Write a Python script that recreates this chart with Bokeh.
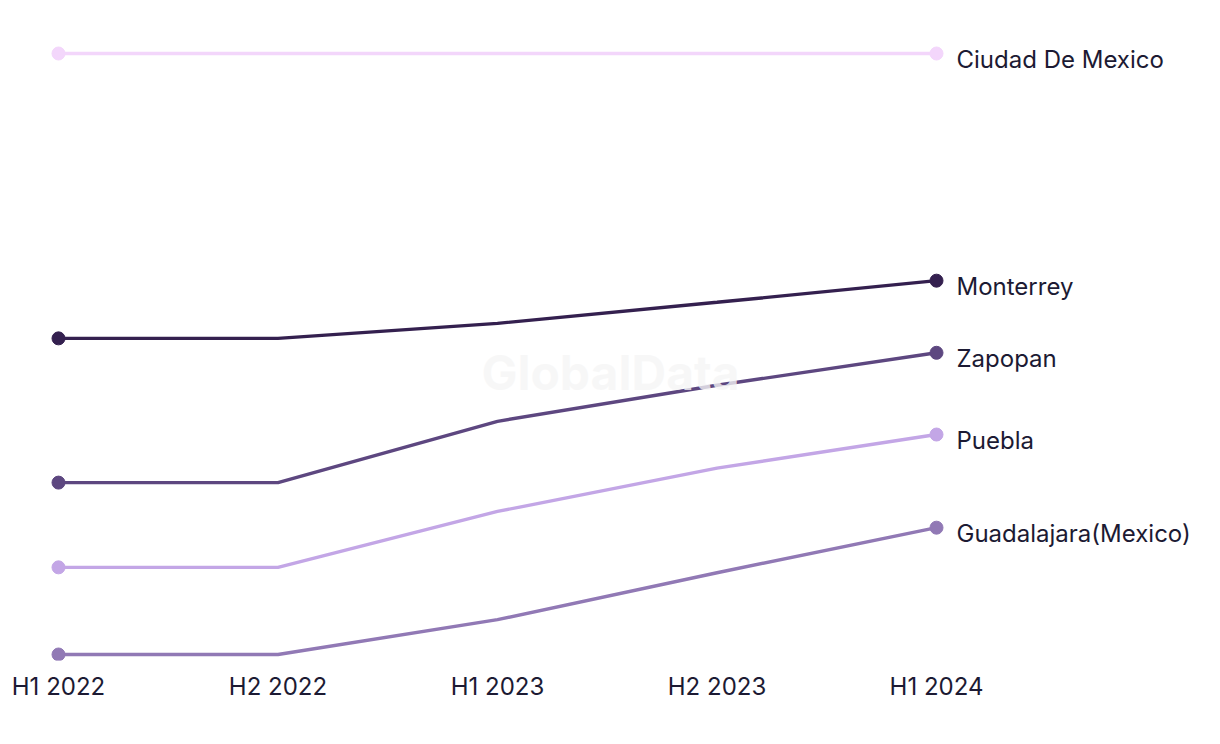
from bokeh.plotting import figure
from bokeh.models import Range1d, FixedTicker, Label
from bokeh.core.properties import value
from bokeh.embed import file_html
from bokeh.resources import INLINE

periods = ["H1 2022", "H2 2022", "H1 2023", "H2 2023", "H1 2024"]
cities = ["Ciudad De Mexico", "Monterrey", "Zapopan", "Puebla", "Guadalajara(Mexico)"]
ciudad = [100.0, 100.0, 100.0, 100.0, 100.0]
monterrey = [52.6, 52.6, 55.1, 58.6, 62.2]
zapopan = [28.6, 28.6, 38.8, 44.8, 50.2]
puebla = [14.5, 14.5, 23.8, 31.0, 36.6]
guadalajara = [0.0, 0.0, 5.8, 13.6, 21.1]
series = [ciudad, monterrey, zapopan, puebla, guadalajara]
colors = ["#f3d6fb", "#34204f", "#5d4780", "#c3a6e6", "#9179b5"]

x = list(range(len(periods)))

p = figure(width=1220, frame_width=1220, frame_height=660,
           output_backend="svg", toolbar_location=None,
           x_range=Range1d(-0.2642, 5.2938), y_range=Range1d(-1.0, 108.82),
           min_border_left=0, min_border_right=0, min_border_top=0, min_border_bottom=0)
p.outline_line_color = None
p.grid.visible = False
p.yaxis.visible = False
p.background_fill_color = "white"
p.border_fill_color = "white"

p.add_layout(Label(x=2.515, y=46.9, text="GlobalData", text_font="Inter",
                   text_font_style="bold", text_font_size="48px", text_color="#f6f6f6",
                   text_alpha=0.8, text_align="center", text_baseline="middle"))

for name, ys, c in zip(cities, series, colors):
    p.line(x, ys, line_color=c, line_width=3.4)
    p.scatter([x[0], x[-1]], [ys[0], ys[-1]], size=13, fill_color=c, line_color=c)
    p.text([x[-1]], [ys[-1]], text=[name], x_offset=20, y_offset=6,
           text_font=value("Inter"), text_font_size="24px", text_color="#1c1a33",
           text_baseline="middle", text_align="left")

ax = p.xaxis[0]
ax.ticker = FixedTicker(ticks=x)
ax.major_label_overrides = {i: s for i, s in enumerate(periods)}
ax.axis_line_color = None
ax.major_tick_line_color = None
ax.minor_tick_line_color = None
ax.major_label_standoff = 5
ax.major_label_text_font = "Inter"
ax.major_label_text_font_size = "24px"
ax.major_label_text_color = "#1c1a33"

open("out.html", "w").write(file_html(p, INLINE))
